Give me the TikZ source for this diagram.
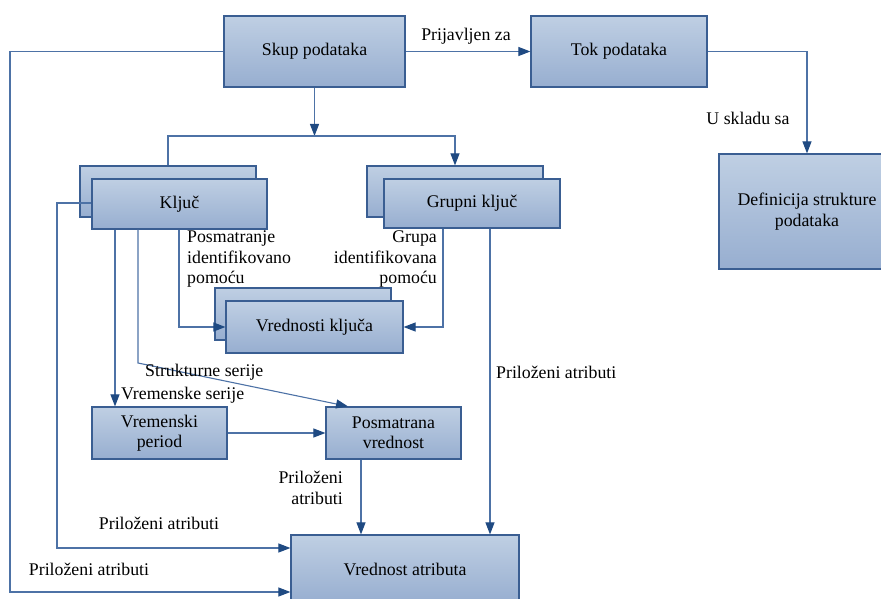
\documentclass[tikz,border=0pt]{standalone}
\usepackage{fontspec}
\setmainfont{Liberation Serif}
\usetikzlibrary{arrows.meta}
\definecolor{boxtop}{HTML}{BFCFE3}
\definecolor{boxbot}{HTML}{97AED0}
\definecolor{boxline}{HTML}{3A5E92}
\definecolor{connline}{HTML}{4D72A6}
\definecolor{tipcol}{HTML}{1F4A82}
\tikzset{
  box/.style={draw=boxline, line width=1.2pt, top color=boxtop, bottom color=boxbot,
    inner sep=0pt, align=center, font=\fontsize{17.8}{20.5}\selectfont},
  conn/.style={draw=connline, line width=1.1pt},
  arr/.style={conn, -{Triangle[length=12pt,width=9pt,fill=tipcol,color=tipcol]}},
  lbl/.style={inner sep=0pt, font=\fontsize{17.8}{20.5}\selectfont},
}
\begin{document}
\begin{tikzpicture}[x=1pt,y=-1pt]
\useasboundingbox (0,0) rectangle (881,599);

% boxes
\node[box, minimum width=181, minimum height=71] (skup) at (314.5,51.5) {Skup podataka};
\node[box, minimum width=176, minimum height=71] (tok) at (619,51.5) {Tok podataka};
\node[box, minimum width=176, minimum height=115] (def) at (807,211.5) {Definicija strukture\\podataka};

\node[box, minimum width=176, minimum height=51] (kljucB) at (168,191.5) {};
\node[box, minimum width=175, minimum height=50] (kljuc) at (179.5,204) {Ključ};

\node[box, minimum width=176, minimum height=51] (grupB) at (455,191.5) {};
\node[box, minimum width=176, minimum height=49] (grup) at (472,203.5) {Grupni ključ};

\node[box, minimum width=176, minimum height=52] (vkB) at (303,314) {};
\node[box, minimum width=177, minimum height=52] (vk) at (314.5,327) {Vrednosti ključa};

\node[box, minimum width=135, minimum height=52] (vp) at (159.5,433) {Vremenski\\period};
\node[box, minimum width=135, minimum height=52] (pv) at (393.5,433) {Posmatrana\\vrednost};

\node[box, minimum width=228, minimum height=68] (va) at (405,569) {Vrednost atributa};

% junction under the data set
\coordinate (bar) at (314.5,136);

% connectors
\draw[arr] (skup) -- (tok);
\node[lbl] (prij) at (466,36) {Prijavljen za};
\draw[arr] (tok.east) -| (def.north);
\node[lbl] (uskladu) at (748,118) {U skladu sa};

\draw[arr] (skup.south) -- (bar);
\draw[conn] (kljucB.north) |- (bar);
\draw[arr] (bar) -| (grupB.north);

\coordinate (outer) at (10,592);
\draw[arr] (skup.west) -| (outer) -- (outer -| va.west);
\node[lbl] (pa1) at (89,569) {Priloženi atributi};

\coordinate (inner) at (57,548);
\draw[arr] (kljuc.west |- 0,203) -| (inner) -- (inner -| va.west);
\node[lbl] (pa2) at (159,523) {Priloženi atributi};

\draw[arr] (kljuc.south -| 115,0) -- (vp.north -| 115,0);
\node[lbl, anchor=west] (vs) at (121,395) {Vremenske serije};

\coordinate (sbend) at (138,363);
\draw[arr] (kljuc.south -| 138,0) -- (sbend) -- (pv.north -| 348,0);
\node[lbl, anchor=west] (ss) at (145,372) {Strukturne serije};

\draw[arr] (kljuc.south -| 179,0) |- (vk.west);
\node[lbl, anchor=north west, align=left] (pip) at (187,231) {Posmatranje\\identifikovano\\pomoću};

\draw[arr] (grup.south -| 443,0) |- (vk.east);
\node[lbl, anchor=north east, align=right] (gip) at (437,231) {Grupa\\identifikovana\\pomoću};

\draw[arr] (grup.south -| 490,0) -- (va.north -| 490,0);
\node[lbl, anchor=west] (pa3) at (496,372) {Priloženi atributi};

\draw[arr] (vp) -- (pv);

\draw[arr] (pv.south -| 361,0) -- (va.north -| 361,0);
\node[lbl, anchor=north east, align=right] (pa4) at (343,471) {Priloženi\\atributi};
\end{tikzpicture}
\end{document}
